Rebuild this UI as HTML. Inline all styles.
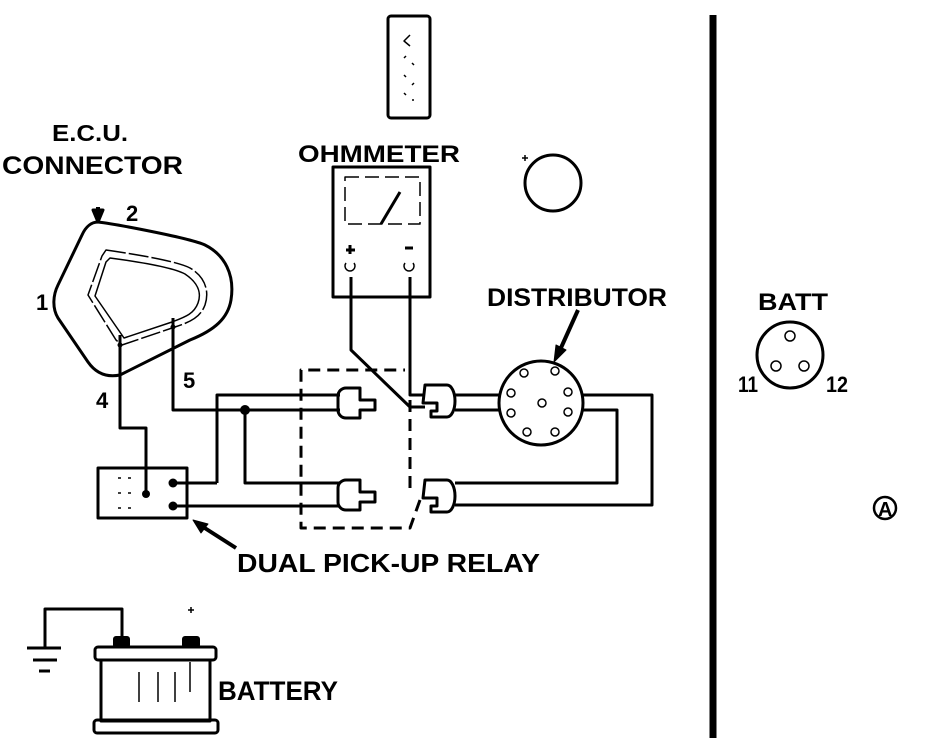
<!DOCTYPE html>
<html><head><style>
body{margin:0;background:#fff;}
svg{display:block}
text{font-family:"Liberation Sans",sans-serif;font-weight:bold;fill:#000}
</style></head><body>
<svg width="928" height="742" viewBox="0 0 928 742" xmlns="http://www.w3.org/2000/svg">
<g fill="none" stroke="#000" stroke-width="3" stroke-linejoin="round">
<line x1="713" y1="15" x2="713" y2="738" stroke-width="7"/>
<rect x="388" y="16" width="42" height="102" rx="3"/>
<g stroke-width="1.5"><path d="M410 35 l-6 6 l6 5"/><path d="M404 58 l2 -2 M412 63 l2 2 M404 75 l2 2 M412 85 l2 -2 M404 93 l2 2 M412 100 l2 0"/></g>
<circle cx="553" cy="183" r="28"/>
<path d="M522 158 h6 M525 155 v6" stroke-width="1.5"/>
<path d="M98 222 C115 224 190 238 205 245 C225 255 235 275 231 300 C228 318 215 330 190 340 L120 375 C105 378 95 372 88 362 L58 318 C52 308 53 295 58 285 L82 235 C86 226 92 222 98 222 Z"/>
<path d="M106 250 C120 252 175 260 190 268 C204 276 210 290 205 305 C200 318 190 322 175 327 L122 345 L116 340 L88 295 L102 256 Z" stroke-width="1.5" stroke-dasharray="20 3"/>
<path d="M110 258 C125 260 170 266 185 274 C197 282 202 292 198 303 C194 314 185 317 172 322 L124 338 L95 296 L106 262 Z" stroke-width="1.5"/>
<path d="M98 207 V222" stroke-width="4"/>
<path d="M93 210 L98 222 L103 210 Z" fill="#000"/>
<path d="M120 335 V428 H146 V492"/>
<path d="M173 318 V410 H340"/>
<path d="M217 483 V395 H340"/>
<path d="M245 410 V483 H340"/>
<path d="M172 506 H340"/>
<path d="M172 483 H217"/>
<rect x="98" y="468" width="89" height="50"/>
<g stroke-width="1.5"><path d="M118 478 h3 M128 478 h3 M118 493 h3 M128 493 h3 M118 508 h3 M128 508 h3"/></g>
<path d="M236 548 L200 525" stroke-width="4"/>
<path d="M193 520 L208 524 L201 533 Z" fill="#000" stroke-width="1"/>
<path d="M410 400 V490 M420 500 L410 528 H301 V370 H405" stroke-dasharray="12 7"/>
<path d="M346 388 h14 v12 h15 v10 h-15 v8 h-14 a8 8 0 0 1 -8 -8 v-14 a8 8 0 0 1 8 -8 Z"/>
<path d="M346 480 h14 v12 h15 v10 h-15 v8 h-14 a8 8 0 0 1 -8 -8 v-14 a8 8 0 0 1 8 -8 Z"/>
<path d="M425 385 h22 a8 16 0 0 1 0 32 h-16 v-6 h6 v-8 h-14 Z"/>
<path d="M425 480 h22 a8 16 0 0 1 0 32 h-16 v-6 h6 v-8 h-14 Z"/>
<rect x="333" y="167" width="97" height="130"/>
<rect x="345" y="177" width="75" height="47" stroke-width="1.5" stroke-dasharray="14 6"/>
<path d="M381 224 L400 192" stroke-width="3"/>
<path d="M346 250 h9 M350 245 v9" stroke-width="3"/>
<path d="M405 248 h8" stroke-width="3"/>
<path d="M346 263 a5 5 0 1 0 8 0" stroke-width="1.5"/>
<path d="M405 263 a5 5 0 1 0 8 0" stroke-width="1.5"/>
<path d="M351 277 V350 L410 407 H425"/>
<path d="M410 277 V395 H425"/>
<circle cx="541" cy="403" r="42"/>
<g stroke-width="1.5">
<circle cx="524" cy="373" r="4"/><circle cx="555" cy="371" r="4"/>
<circle cx="511" cy="393" r="4"/><circle cx="568" cy="392" r="4"/>
<circle cx="511" cy="413" r="4"/><circle cx="568" cy="412" r="4"/>
<circle cx="527" cy="432" r="4"/><circle cx="555" cy="432" r="4"/>
<circle cx="542" cy="403" r="4"/>
</g>
<path d="M578 310 L560 350" stroke-width="4"/>
<path d="M554 362 L556 345 L566 350 Z" fill="#000" stroke-width="1"/>
<path d="M455 395 H500 M455 410 H500"/>
<path d="M583 395 H652 V505 H455"/>
<path d="M583 410 H617 V483 H455"/>
<circle cx="790" cy="355" r="33"/>
<g stroke-width="1.5"><circle cx="790" cy="336" r="5"/><circle cx="776" cy="366" r="5"/><circle cx="804" cy="366" r="5"/></g>
<circle cx="885" cy="508" r="11" stroke-width="2.5"/>
<path d="M45 648 V609 H122 V637"/>
<path d="M27 648 H61 M33 660 H57" stroke-width="3"/>
<path d="M39 671 H50" stroke-width="3"/>
<rect x="95" y="647" width="121" height="13" rx="3"/>
<rect x="101" y="660" width="109" height="61"/>
<rect x="94" y="720" width="124" height="13" rx="3"/>
<g stroke-width="1.5"><path d="M139 672 v30 M158 672 v30 M175 672 v30 M190 662 v30"/></g>
<path d="M188 610 h6 M191 607 v6" stroke-width="1.5"/>
</g>
<g fill="#000">
<rect x="113" y="636" width="17" height="12" rx="3"/>
<rect x="182" y="636" width="18" height="12" rx="3"/>
<circle cx="245" cy="410" r="5"/>
<circle cx="146" cy="494" r="4"/>
<circle cx="173" cy="483" r="4.5"/>
<circle cx="173" cy="506" r="4.5"/>
<circle cx="120" cy="345" r="2.5"/>
<circle cx="173" cy="327" r="2.5"/>
</g>
<text x="52" y="141" font-size="23" textLength="76" lengthAdjust="spacingAndGlyphs">E.C.U.</text>
<text x="2" y="174" font-size="25" textLength="181" lengthAdjust="spacingAndGlyphs">CONNECTOR</text>
<text x="298" y="162" font-size="24" textLength="162" lengthAdjust="spacingAndGlyphs">OHMMETER</text>
<text x="487" y="306" font-size="25" textLength="180" lengthAdjust="spacingAndGlyphs">DISTRIBUTOR</text>
<text x="237" y="572" font-size="26" textLength="303" lengthAdjust="spacingAndGlyphs">DUAL PICK-UP RELAY</text>
<text x="218" y="700" font-size="27" textLength="120" lengthAdjust="spacingAndGlyphs">BATTERY</text>
<text x="758" y="310" font-size="24" textLength="70" lengthAdjust="spacingAndGlyphs">BATT</text>
<text x="36" y="310" font-size="22">1</text>
<text x="126" y="221" font-size="22">2</text>
<text x="96" y="408" font-size="22">4</text>
<text x="183" y="388" font-size="22">5</text>
<text x="738" y="392" font-size="22" textLength="20" lengthAdjust="spacingAndGlyphs">11</text>
<text x="826" y="392" font-size="22" textLength="22" lengthAdjust="spacingAndGlyphs">12</text>
<text x="878" y="516" font-size="20">A</text>
</svg>
</body></html>
